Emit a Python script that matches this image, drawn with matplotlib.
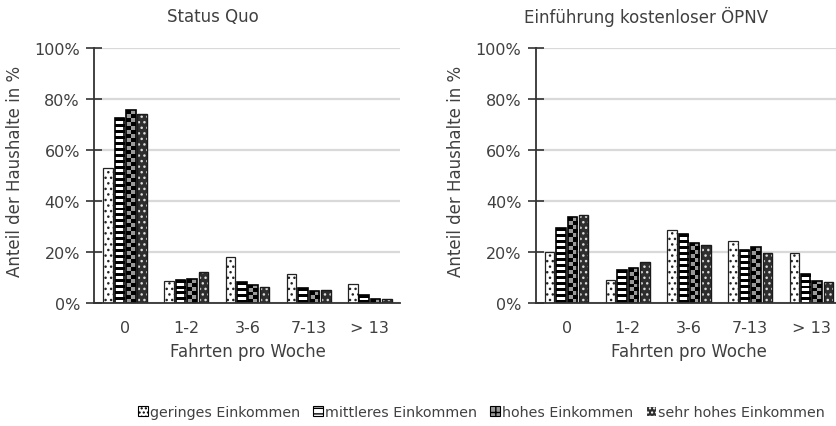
import numpy as np
import matplotlib
matplotlib.use("Agg")
import matplotlib.pyplot as plt
from matplotlib.colors import ListedColormap
from matplotlib.patches import Patch

categories = ["0", "1-2", "3-6", "7-13", "> 13"]
series_names = ["geringes Einkommen", "mittleres Einkommen", "hohes Einkommen", "sehr hohes Einkommen"]

status_quo_gering = [53.1, 8.7, 18.1, 11.2, 7.3]
status_quo_mittel = [72.5, 9.0, 8.1, 5.7, 3.0]
status_quo_hoch = [75.6, 9.4, 7.2, 4.7, 1.5]
status_quo_sehr_hoch = [74.1, 12.3, 6.4, 5.1, 1.5]

kostenlos_gering = [20.0, 9.0, 28.5, 24.3, 19.8]
kostenlos_mittel = [29.4, 12.8, 26.9, 20.9, 11.2]
kostenlos_hoch = [33.7, 13.7, 23.6, 21.8, 8.7]
kostenlos_sehr_hoch = [34.6, 16.1, 22.7, 19.5, 8.2]

titles = ["Status Quo", "Einführung kostenloser ÖPNV"]
y_ticks = [0, 20, 40, 60, 80, 100]
y_ticklabels = ["0%", "20%", "40%", "60%", "80%", "100%"]

TXT = "#404040"
FS = 11.5
plt.rcParams["font.family"] = ["DejaVu Sans"]

W, H = 837, 427
fig = plt.figure(figsize=(W / 100, H / 100), dpi=100)

offsets = [-0.28, -0.093, 0.093, 0.28]
bw = 0.155


def pattern_overlay(ax, rects, kind):
    for r in rects:
        x, y, w, h = r.get_x(), r.get_y(), r.get_width(), r.get_height()
        if h <= 0:
            continue
        p0 = ax.transData.transform((x, y))
        p1 = ax.transData.transform((x + w, y + h))
        wpx, hpx = abs(p1[0] - p0[0]), abs(p1[1] - p0[1])
        if kind == "stripes":
            nrows = max(1, int(round(hpx / 3.0)))
            arr = (np.arange(nrows) % 2)[:, None]
            cmap = ListedColormap(["black", "white"])
        else:
            nrows = max(1, int(round(hpx / 4.0)))
            ncols = max(1, int(round(wpx / 4.5)))
            ii, jj = np.meshgrid(np.arange(nrows), np.arange(ncols), indexing="ij")
            arr = (ii + jj) % 2
            cmap = ListedColormap(["black", "#9a9a9a"])
        im = ax.imshow(arr, cmap=cmap, extent=(x, x + w, y, y + h), aspect="auto",
                       interpolation="nearest", zorder=2, vmin=0, vmax=1)
        im.set_clip_path(r)


def panel(ax_rect, data, title, title_x):
    ax = fig.add_axes(ax_rect)
    ax.set_xlim(-0.5, 4.5)
    ax.set_ylim(0, 100)
    ax.set_autoscale_on(False)
    x = np.arange(len(categories))
    g, m, h, s = data
    ax.bar(x + offsets[0], g, bw, facecolor="white", edgecolor="#222222", hatch="...",
           linewidth=0.9, zorder=2)
    bm = ax.bar(x + offsets[1], m, bw, facecolor="white", edgecolor="none", zorder=2)
    pattern_overlay(ax, bm.patches, "stripes")
    ax.bar(x + offsets[1], m, bw, facecolor="none", edgecolor="black", linewidth=1.2, zorder=3)
    bh = ax.bar(x + offsets[2], h, bw, facecolor="#9a9a9a", edgecolor="none", zorder=2)
    pattern_overlay(ax, bh.patches, "checker")
    ax.bar(x + offsets[2], h, bw, facecolor="none", edgecolor="black", linewidth=1.2, zorder=3)
    ax.bar(x + offsets[3], s, bw, facecolor="#2e2e2e", edgecolor="#dddddd", hatch="...",
           linewidth=0, zorder=2)
    ax.bar(x + offsets[3], s, bw, facecolor="none", edgecolor="#1a1a1a", linewidth=1.0, zorder=3)

    ax.set_xticks(x)
    ax.set_xticklabels(categories, fontsize=FS, color=TXT)
    ax.tick_params(axis="x", length=0, pad=12)
    ax.set_yticks(y_ticks)
    ax.set_yticklabels(y_ticklabels, fontsize=FS, color=TXT)
    ax.tick_params(axis="y", direction="inout", length=11, width=1.2, color="#333333", pad=5)
    ax.yaxis.grid(True, color="#d9d9d9", linewidth=1.6)
    ax.set_axisbelow(True)
    for sp in ["top", "right"]:
        ax.spines[sp].set_visible(False)
    ax.spines["left"].set_color("#333333")
    ax.spines["left"].set_linewidth(1.3)
    ax.spines["bottom"].set_color("#333333")
    ax.spines["bottom"].set_linewidth(1.3)
    ax.spines["bottom"].set_zorder(4)
    ax.set_xlabel("Fahrten pro Woche", fontsize=12, color=TXT, va="center")
    ax.xaxis.set_label_coords(0.5, (304 - 352) / 255)
    ax.set_ylabel("Anteil der Haushalte in %", fontsize=12, color=TXT, va="center")
    ax.yaxis.set_label_coords(-0.26, 0.52)
    fig.text(title_x / W, 1 - 17 / H, title, fontsize=FS + 0.5, color=TXT,
             ha="center", va="center")
    return ax


ax_h = 255 / H
ax_b = 123 / H
ax_w = 306 / W
panel([94.5 / W, ax_b, ax_w, ax_h],
      (status_quo_gering, status_quo_mittel, status_quo_hoch, status_quo_sehr_hoch),
      titles[0], 213)
panel([536 / W, ax_b, ax_w, ax_h],
      (kostenlos_gering, kostenlos_mittel, kostenlos_hoch, kostenlos_sehr_hoch),
      titles[1], 646)

handles = [
    Patch(facecolor="white", edgecolor="black", hatch="....", linewidth=0.8),
    Patch(facecolor="white", edgecolor="black", hatch="---", linewidth=0.8),
    Patch(facecolor="#9a9a9a", edgecolor="black", hatch="++", linewidth=0.8),
    Patch(facecolor="#2e2e2e", edgecolor="white", hatch="....", linewidth=0.8),
]
fig.legend(handles, series_names, loc="center", bbox_to_anchor=(481.5 / W, 1 - 413 / H),
           ncol=4, frameon=False, fontsize=10.3, labelcolor=TXT, handlelength=0.7,
           handleheight=0.7, handletextpad=0.15, columnspacing=0.9, borderaxespad=0)

fig.savefig("out.png", dpi=100)
